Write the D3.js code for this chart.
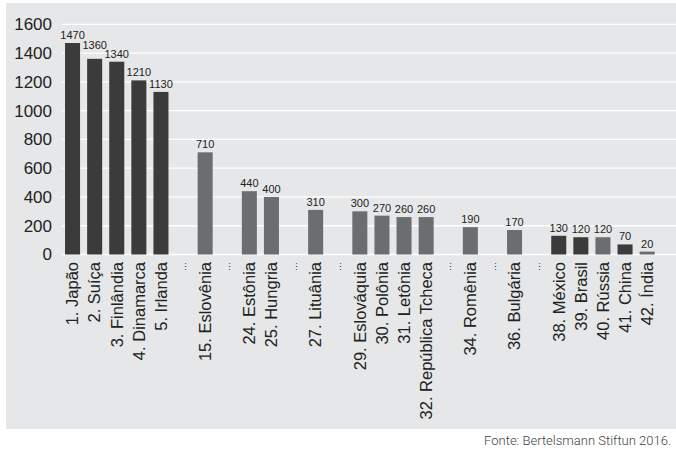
<!DOCTYPE html>
<html>
<head>
<meta charset="utf-8">
<script src="https://cdn.jsdelivr.net/npm/d3@7"></script>
<style>
  body { margin: 0; background: #fff; }
  svg { display: block; }
</style>
</head>
<body>
<svg id="chart" width="676" height="451"></svg>
<script>
const categories = ["1. Japão","2. Suíça","3. Finlândia","4. Dinamarca","5. Irlanda","…","15. Eslovênia","…","24. Estônia","25. Hungria","…","27. Lituânia","…","29. Eslováquia","30. Polônia","31. Letônia","32. República Tcheca","…","34. Romênia","…","36. Bulgária","…","38. México","39. Brasil","40. Rússia","41. China","42. Índia"];
const values = [1470,1360,1340,1210,1130,null,710,null,440,400,null,310,null,300,270,260,260,null,190,null,170,null,130,120,120,70,20];
const groups = ["d","d","d","d","d",null,"g",null,"g","g",null,"g",null,"g","g","g","g",null,"g",null,"g",null,"d","d","g","d","g"];
const yTicks = [0,200,400,600,800,1000,1200,1400,1600];
const source = "Fonte: Bertelsmann Stiftun 2016.";

const colors = { d: "#3b3b3b", g: "#6c6d70" };
const font = "'Liberation Sans', Arial, Helvetica, sans-serif";

const svg = d3.select("#chart");
svg.append("rect").attr("x", 6).attr("y", 3).attr("width", 670).attr("height", 426).attr("fill", "#e6e7e8");

const x = d3.scaleBand().domain(d3.range(categories.length)).range([61.5, 658.2]).paddingInner(0.32).paddingOuter(0.16);
const y = d3.scaleLinear().domain([0, 1600]).range([254.5, 24.3]);

// gridlines
svg.append("g").selectAll("line").data(yTicks).join("line")
  .attr("x1", 62).attr("x2", 676)
  .attr("y1", d => y(d)).attr("y2", d => y(d))
  .attr("stroke", "#fff").attr("stroke-width", 1.3);

// y tick labels
svg.append("g").selectAll("text").data(yTicks).join("text")
  .attr("x", 52).attr("y", d => y(d)).attr("dy", "0.35em")
  .attr("text-anchor", "end")
  .attr("font-family", font).attr("font-size", 17).attr("fill", "#222")
  .text(d => d);

const idx = d3.range(categories.length).filter(i => values[i] != null);

// bars
svg.append("g").selectAll("rect").data(idx).join("rect")
  .attr("x", i => x(i)).attr("width", x.bandwidth())
  .attr("y", i => y(values[i])).attr("height", i => y(0) - y(values[i]))
  .attr("fill", i => colors[groups[i]]);

// value label positions with simple collision avoidance (right to left)
const labelY = {};
const labelW = i => String(values[i]).length * 6.1;
for (let k = idx.length - 1; k >= 0; k--) {
  const i = idx[k];
  let ly = y(values[i]) - 4;
  const j = idx[k + 1];
  if (j === i + 1 && (labelW(i) + labelW(j)) / 2 > x.step()) {
    ly = Math.min(ly, labelY[j] - 8.5);
  }
  labelY[i] = ly;
}

// value labels
svg.append("g").selectAll("text").data(idx).join("text")
  .attr("x", i => x(i) + x.bandwidth() / 2).attr("y", i => labelY[i])
  .attr("text-anchor", "middle")
  .attr("font-family", font).attr("font-size", 11).attr("fill", "#222")
  .text(i => values[i]);

// category labels
svg.append("g").selectAll("text").data(d3.range(categories.length)).join("text")
  .attr("transform", i => `translate(${x(i) + x.bandwidth() / 2},262) rotate(-90)`)
  .attr("dy", "0.35em")
  .attr("text-anchor", "end")
  .attr("font-family", font)
  .attr("font-size", i => categories[i] === "…" ? 9 : 16.5)
  .attr("fill", "#222")
  .text(i => categories[i]);

// source
svg.append("text").attr("x", 671).attr("y", 445).attr("text-anchor", "end")
  .attr("font-family", "Roboto, 'Liberation Sans', sans-serif").attr("font-weight", 300)
  .attr("font-size", 13).attr("fill", "#444").text(source);
</script>
</body>
</html>
